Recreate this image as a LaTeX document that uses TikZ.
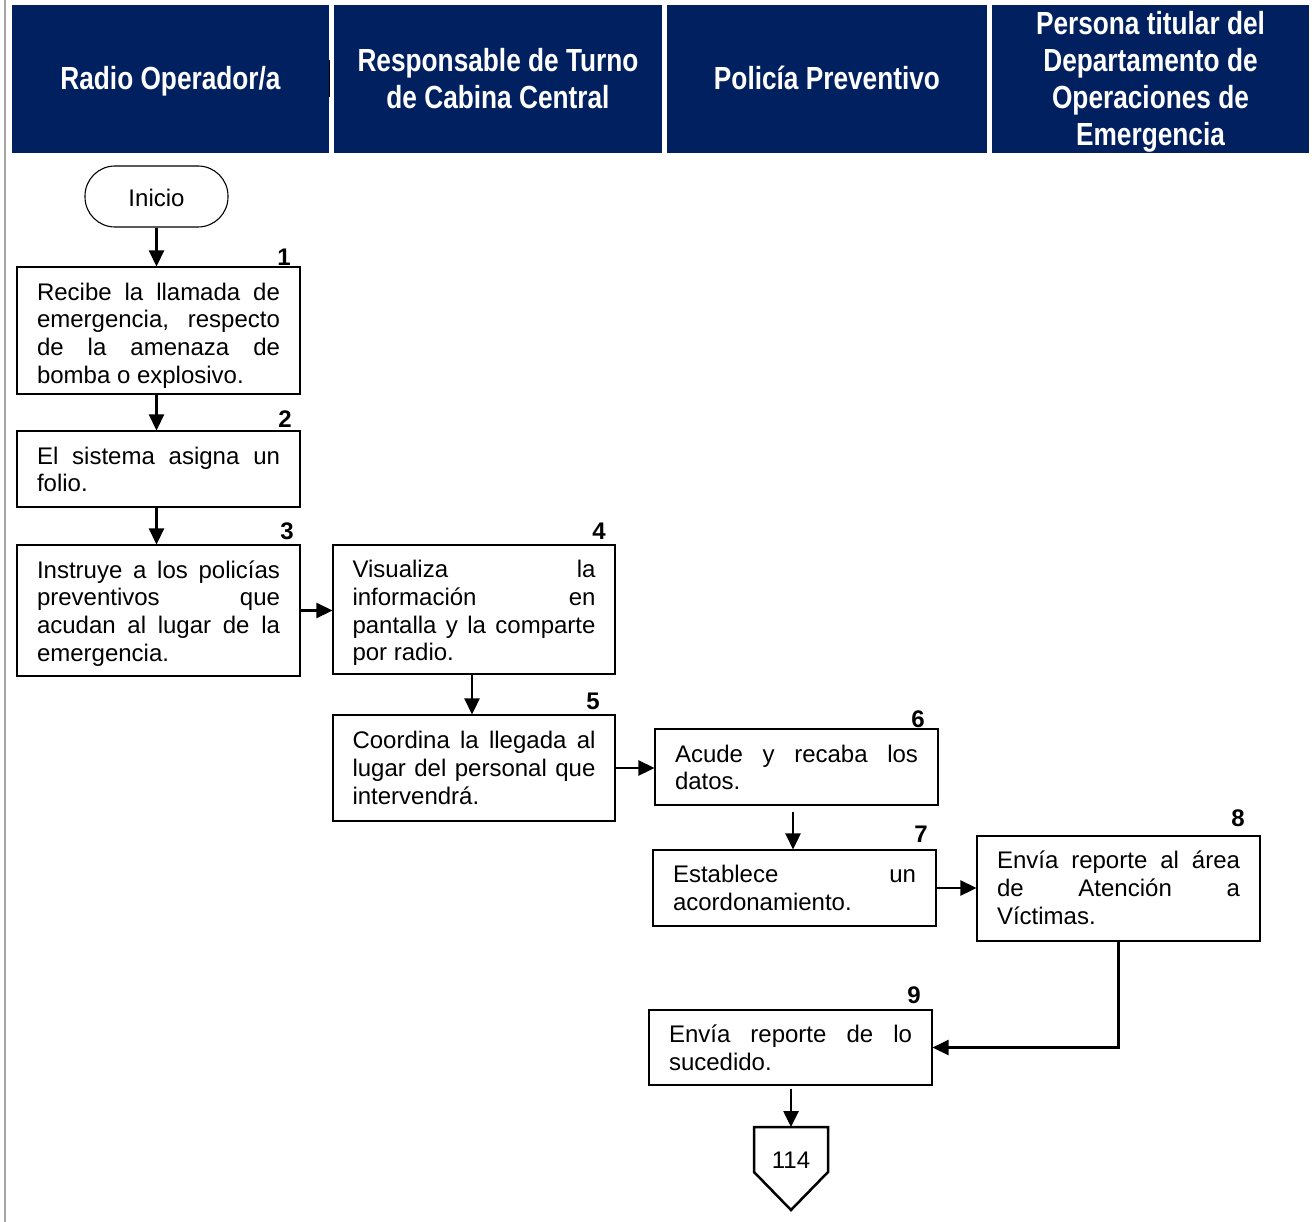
\documentclass[tikz,border=0pt]{standalone}
\usepackage{fontspec}
\setmainfont{Liberation Sans}
\newfontfamily\headfont{Liberation Sans}[UprightFont={* Bold}, FakeStretch=0.82]
\usetikzlibrary{arrows.meta}
\definecolor{lanenavy}{RGB}{0,32,96}
\definecolor{edgegray}{RGB}{165,165,165}
% one justified line of a step text
\newcommand\jline[1]{\makebox[243pt][s]{#1}}

\begin{document}
\begin{tikzpicture}[x=1pt,y=-1pt,
  lanehead/.style={fill=lanenavy, draw=none, inner sep=0pt, minimum height=148pt},
  lanetext/.style={text=white, inner sep=0pt, align=center,
    font=\headfont\fontsize{32}{37}\selectfont},
  stepbox/.style={draw=black, line width=1.1pt, inner sep=0pt, minimum width=283pt},
  steptext/.style={inner sep=0pt, align=left, font=\fontsize{24}{27.8}\selectfont},
  startbox/.style={draw=black, line width=1.1pt, rounded corners=30pt,
    minimum width=143pt, minimum height=61pt, inner sep=0pt, font=\fontsize{24}{28}\selectfont},
  num/.style={font=\bfseries\fontsize{24}{28}\selectfont, anchor=base, inner sep=0pt},
  flow/.style={line width=2.6pt, -{Triangle[length=16pt,width=15pt]}},
]
\useasboundingbox (0,0) rectangle (1312,1222);

% page edge
\draw[edgegray, line width=2pt] (5,0) -- (5,1222);

% lane headers
\node[lanehead, minimum width=317pt] (h1) at (170.5,79) {};
\node[lanehead, minimum width=328pt] (h2) at (498,79) {};
\node[lanehead, minimum width=320pt] (h3) at (827,79) {};
\node[lanehead, minimum width=317pt] (h4) at (1150.5,79) {};
\node[lanetext] (ht1) at ([yshift=-2pt]h1.center) {Radio Operador/a};
\node[lanetext] (ht2) at (h2.center) {Responsable de Turno\\de Cabina Central};
\node[lanetext] (ht3) at ([yshift=1pt]h3.center) {Policía Preventivo};
\node[lanetext] (ht4) at ([yshift=-3pt]h4.center) {Persona titular del\\Departamento de\\Operaciones de\\Emergencia};
\draw[black, line width=1.2pt] (h1.east |- 0,60) -- (h1.east |- 0,97);

% start
\node[startbox] (start) at (156.5,196.5) {};
\node[inner sep=0pt, font=\fontsize{24}{28}\selectfont] (starttext) at ([yshift=-1.5pt]start.center) {Inicio};

% step boxes
\node[stepbox, minimum height=127pt] (b1) at (158.5,330.5) {};
\node[stepbox, minimum height=76pt] (b2) at (158.5,469) {};
\node[stepbox, minimum height=131pt] (b3) at (158.5,610.5) {};
\node[stepbox, minimum width=282pt, minimum height=129pt] (b4) at (474,609.5) {};
\node[stepbox, minimum width=282pt, minimum height=106pt] (b5) at (474,768) {};
\node[stepbox, minimum height=76pt] (b6) at (796.5,767) {};
\node[stepbox, minimum height=76pt] (b7) at (794.5,888) {};
\node[stepbox, minimum height=105pt] (b8) at (1118.5,888.5) {};
\node[stepbox, minimum height=75pt] (b9) at (790.5,1047.5) {};

% step texts
\node[steptext] (t1) at ([yshift=-5pt]b1.center)
  {\jline{Recibe la llamada de}\\\jline{emergencia, respecto}\\\jline{de la amenaza de}\\bomba o explosivo.};
\node[steptext] (t2) at ([yshift=-0.5pt]b2.center)
  {\jline{El sistema asigna un}\\folio.};
\node[steptext] (t3) at ([yshift=-3pt]b3.center)
  {\jline{Instruye a los policías}\\\jline{preventivos que}\\\jline{acudan al lugar de la}\\emergencia.};
\node[steptext] (t4) at ([yshift=-3.5pt]b4.center)
  {\jline{Visualiza la}\\\jline{información en}\\\jline{pantalla y la comparte}\\por radio.};
\node[steptext] (t5) at (b5.center)
  {\jline{Coordina la llegada al}\\\jline{lugar del personal que}\\intervendrá.};
\node[steptext] (t6) at ([yshift=-0.5pt]b6.center)
  {\jline{Acude y recaba los}\\datos.};
\node[steptext] (t7) at (b7.center)
  {\jline{Establece un}\\acordonamiento.};
\node[steptext] (t8) at ([yshift=0.5pt]b8.center)
  {\jline{Envía reporte al área}\\\jline{de Atención a}\\Víctimas.};
\node[steptext] (t9) at (b9.center)
  {\jline{Envía reporte de lo}\\sucedido.};

% step numbers
\node[num] (n1) at (284,266) {1};
\node[num] (n2) at (285,428) {2};
\node[num] (n3) at (287,539) {3};
\node[num] (n4) at (599,539) {4};
\node[num] (n5) at (593,709) {5};
\node[num] (n6) at (918,727) {6};
\node[num] (n7) at (921,842) {7};
\node[num] (n8) at (1238,826) {8};
\node[num] (n9) at (914,1003) {9};

% off-page connector
\coordinate (offtop) at (791,1127);
\draw[line width=2.5pt, line join=miter] (754,1127) -- (828,1127) -- (828,1172) -- (791,1210) -- (754,1172) -- cycle;
\node[inner sep=0pt, font=\fontsize{24}{28}\selectfont] (off) at (791,1160) {114};

% flow
\draw[flow] (start.south) -- (start.south |- b1.north);
\draw[flow] (b1.south -| start.south) -- (start.south |- b2.north);
\draw[flow] (b2.south -| start.south) -- (start.south |- b3.north);
\draw[flow] (b3.east) -- (b3.east -| b4.west);
\draw[flow] ([xshift=-2pt]b4.south) -- ([xshift=-2pt]b4.south |- b5.north);
\draw[flow] (b5.east) -- (b5.east -| b6.west);
\draw[flow] ([xshift=-3.5pt,yshift=-6pt]b6.south) -- ([xshift=-3.5pt]b6.south |- b7.north);
\draw[flow] (b7.east) -- (b7.east -| b8.west);
\draw[flow] (b8.south) |- (b9.east);
\draw[flow] ([yshift=-3pt]b9.south -| offtop) -- (offtop);
\end{tikzpicture}
\end{document}
